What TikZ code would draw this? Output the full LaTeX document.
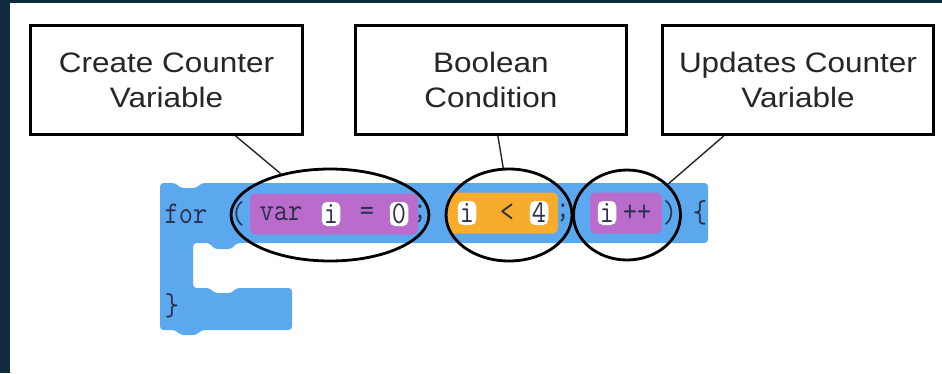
\documentclass[tikz,border=0pt]{standalone}
\usepackage{fontspec}
\usetikzlibrary{shapes.geometric}
\newfontfamily\boxfont[FakeStretch=1.12]{Liberation Sans}
\newfontfamily\codefont[FakeStretch=0.87]{Latin Modern Mono}
\definecolor{navybg}{RGB}{16,42,62}
\definecolor{loopblue}{RGB}{92,168,238}
\definecolor{varpurple}{RGB}{186,108,204}
\definecolor{logicorange}{RGB}{248,172,44}
\definecolor{codeink}{RGB}{42,48,78}
\definecolor{labelink}{RGB}{38,38,38}
\tikzset{
  labelbox/.style={draw=black, line width=1.7pt, fill=white, align=center,
    minimum width=5.44cm, minimum height=2.18cm, text=labelink,
    font=\boxfont\fontsize{16}{20}\selectfont},
  code/.style={inner sep=0pt, text=codeink, font=\codefont\fontsize{18}{20}\selectfont},
  slot/.style={code, fill=white, rounded corners=3pt, minimum width=0.37cm, minimum height=0.48cm},
  inblock/.style={rounded corners=3pt, minimum height=0.82cm, inner sep=0pt},
  ring/.style={ellipse, draw=black, line width=1.6pt, inner sep=0pt},
  leader/.style={draw=black!85, line width=0.8pt}
}
\begin{document}
\begin{tikzpicture}[x=0.02cm, y=-0.02cm]
  \useasboundingbox (0,0) rectangle (942,373);
  \fill[navybg] (0,0) rectangle (942,373);
  \fill[white] (10,3) rectangle (942,373);

  % loop block
  \fill[loopblue, rounded corners=2pt] (160,183) -- (176,183) -- (180,188) -- (197,188) -- (201,183)
    -- (708,183) -- (708,243) -- (236,243) -- (232,249) -- (214,249) -- (210,243)
    -- (193,243) -- (193,288) -- (210,288) -- (214,293) -- (232,293) -- (236,288)
    -- (292,288) -- (292,330) -- (201,330) -- (197,335) -- (180,335) -- (176,330)
    -- (160,330) -- cycle;

  % inner blocks
  \node[inblock, fill=varpurple, minimum width=3.36cm] (init) at (334,214) {};
  \node[inblock, fill=logicorange, minimum width=2.2cm] (test) at (503,213) {};
  \node[inblock, fill=varpurple, minimum width=1.44cm] (step1) at (626,213) {};

  % code text
  \node[code] (for) at (186,214) {for};
  \node[code] (open) at (238,214) {(};
  \node[code] (var) at (281,214) {var};
  \node[slot] (i1) at (331,214) {i};
  \node[code] (eq) at (367,214) {=};
  \node[slot] (zero) at (399,214) {0};
  \node[code] (semi1) at (420,214) {;};
  \node[slot] (i2) at (467,213) {i};
  \node[code] (lt) at (507,213) {<};
  \node[slot] (four) at (539,213) {4};
  \node[code] (semi2) at (563,213) {;};
  \node[slot] (i3) at (607,213) {i};
  \node[code] (plus) at (637,213) {++};
  \node[code] (close) at (670,213) {)};
  \node[code] (brace) at (700,213) {\{};
  \node[code] (endbrace) at (172,306) {\}};

  % circled parts
  \node[ring, minimum width=3.96cm, minimum height=1.84cm] (ringinit) at (330,215) {};
  \node[ring, minimum width=2.52cm, minimum height=1.84cm] (ringtest) at (509,215) {};
  \node[ring, minimum width=2.14cm, minimum height=1.8cm] (ringstep) at (627,215) {};

  % labels
  \node[labelbox, minimum width=5.46cm] (create) at (166.5,80) {Create Counter\\Variable};
  \node[labelbox] (cond) at (491,80) {Boolean\\Condition};
  \node[labelbox] (upd) at (798,80) {Updates Counter\\Variable};

  \draw[leader] (create.-39) -- (ringinit.140);
  \draw[leader] (cond.-83) -- (ringtest.97);
  \draw[leader] (upd.-143) -- (ringstep.37);
\end{tikzpicture}
\end{document}
